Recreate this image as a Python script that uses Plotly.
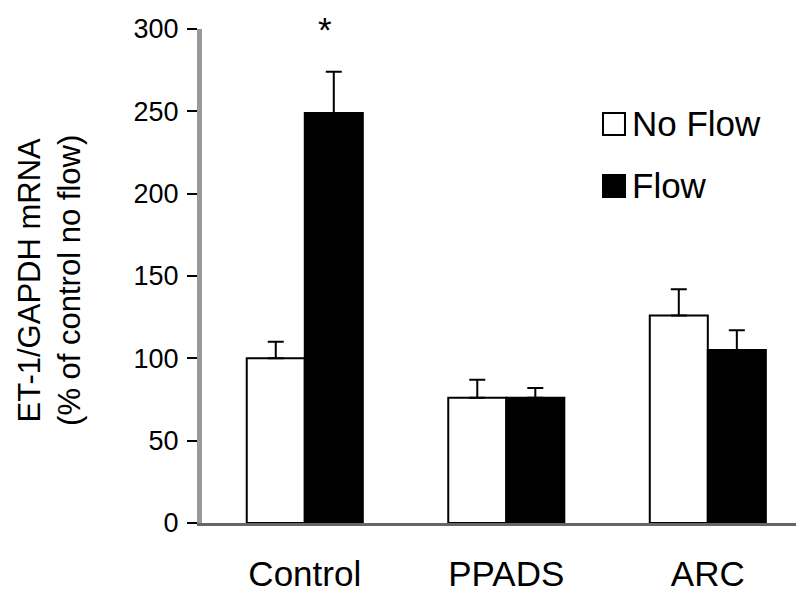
import plotly.graph_objects as go

categories = ["Control", "PPADS", "ARC"]
no_flow = [100, 76, 126]
no_flow_err = [10, 11, 16]
flow = [249, 76, 105]
flow_err = [25, 6, 12]
series_names = ["No Flow", "Flow"]
y_ticks = [0, 50, 100, 150, 200, 250, 300]

FONT = "Liberation Sans, Arial, sans-serif"

fig = go.Figure()
fig.add_trace(go.Bar(
    x=categories, y=no_flow, name=series_names[0],
    marker=dict(color="white", line=dict(color="black", width=2)),
    error_y=dict(type="data", array=no_flow_err, arrayminus=[0]*3, symmetric=False,
                 color="black", thickness=2, width=8),
    showlegend=False,
))
fig.add_trace(go.Bar(
    x=categories, y=flow, name=series_names[1],
    marker=dict(color="black", line=dict(color="black", width=2)),
    error_y=dict(type="data", array=flow_err, arrayminus=[0]*3, symmetric=False,
                 color="black", thickness=2, width=8),
    showlegend=False,
))

# legend drawn manually (large square swatches)
legend_items = [(series_names[0], "white", 0.830, 0.7854), (series_names[1], "black", 0.7045, 0.660)]
for name, col, y1, y0 in legend_items:
    fig.add_shape(type="rect", xref="paper", yref="paper", x0=0.6574, x1=0.6934, y0=y0, y1=y1,
                  fillcolor=col, line=dict(color="black", width=2))
    fig.add_annotation(xref="paper", yref="paper", x=0.7010, y=(y0 + y1) / 2, text=name,
                       showarrow=False, xanchor="left", yanchor="middle",
                       font=dict(family=FONT, size=35, color="black"))

# significance star
fig.add_annotation(x="Control", y=300, xref="x", yref="y", text="*", showarrow=False,
                   xshift=20, yshift=0, yanchor="middle",
                   font=dict(family=FONT, size=35, color="black"))

# y axis title
fig.add_annotation(xref="paper", yref="paper", x=-0.2492, y=0.492,
                   text="ET-1/GAPDH mRNA<br>(% of control no flow)", textangle=-90,
                   showarrow=False, xanchor="center", yanchor="middle", borderpad=0,
                   font=dict(family=FONT, size=31, color="black"))

fig.update_layout(
    width=804, height=593,
    margin=dict(l=194, r=0, t=21, b=78),
    paper_bgcolor="white", plot_bgcolor="white",
    barmode="group", bargap=0.424, bargroupgap=0,
    font=dict(family=FONT, color="black"),
    xaxis=dict(type="category", range=[-0.51, 2.517], showgrid=False, zeroline=False,
               showline=True, linecolor="#666666", linewidth=3, ticks="",
               ticklabelstandoff=18,
               tickfont=dict(size=35, family=FONT, color="black")),
    yaxis=dict(range=[0, 300], tickvals=y_ticks, showgrid=False, zeroline=False,
               showline=True, linecolor="#999999", linewidth=5,
               ticks="outside", ticklen=10, tickwidth=2, tickcolor="black",
               ticklabelstandoff=3,
               tickfont=dict(size=27, family=FONT, color="black")),
)

fig.write_html("out.html")
